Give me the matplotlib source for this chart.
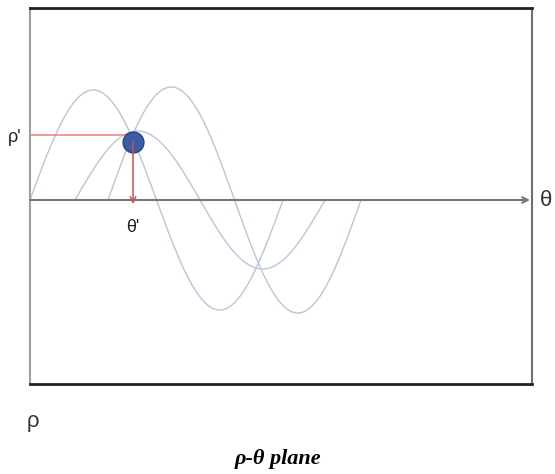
import matplotlib
matplotlib.use('Agg')
import matplotlib.pyplot as plt
import numpy as np

# three sinusoids in the rho-theta plane (start on theta axis, amplitude, period)
curve_start = [0, 78, 45]
curve_amp = [110, 113, 69]
curve_period = [253, 253, 250]

# intersection point and its projections
point_theta = 103
point_rho = 58
rho_prime_level = 65

fig = plt.figure(figsize=(5.55, 4.74), dpi=100)
ax = fig.add_axes([30 / 555, 90 / 474, 502 / 555, 376 / 474])
ax.set_xlim(0, 502)
ax.set_ylim(-184, 192)
ax.set_xticks([])
ax.set_yticks([])
ax.spines['top'].set_color('#222222')
ax.spines['bottom'].set_color('#222222')
ax.spines['top'].set_linewidth(2)
ax.spines['bottom'].set_linewidth(2)
ax.spines['left'].set_color('#a0a0a0')
ax.spines['right'].set_color('#707070')
ax.spines['left'].set_linewidth(1.5)
ax.spines['right'].set_linewidth(1.5)

for s, a, p in zip(curve_start, curve_amp, curve_period):
    t = np.linspace(s, s + p, 300)
    ax.plot(t, a * np.sin(2 * np.pi * (t - s) / p), color='#bcc4dc', lw=1.0)

# theta axis
ax.annotate('', xy=(500, 0), xytext=(0, 0),
            arrowprops=dict(arrowstyle='->', color='#777777', lw=1.5,
                            shrinkA=0, shrinkB=0, mutation_scale=10))

# red projections
ax.plot([0, point_theta], [rho_prime_level, rho_prime_level], color='#e88080', lw=1.1)
ax.annotate('', xy=(point_theta, -4), xytext=(point_theta, point_rho),
            arrowprops=dict(arrowstyle='->', color='#d05050', lw=1.1,
                            shrinkA=0, shrinkB=0, mutation_scale=10))
ax.plot([point_theta], [point_rho], 'o', ms=15, color='#3d5ca6',
        mec='#2a4580', mew=1)

ax.text(-15, 63, "ρ'", fontsize=13, ha='center', va='center', color='#222222',
        family='Liberation Sans', clip_on=False)
ax.text(103, -28, "θ'", fontsize=13, ha='center', va='center', color='#222222',
        family='Liberation Sans', clip_on=False)
ax.text(516, 0, "θ", fontsize=16, ha='center', va='center', color='#333333',
        family='Liberation Sans', clip_on=False)
ax.text(3, -221, "ρ", fontsize=16, ha='center', va='center', color='#333333',
        family='Liberation Sans', clip_on=False)

fig.text(0.5, 1 - 459 / 474, 'ρ-θ plane', fontsize=16, ha='center', va='center',
         family='Liberation Serif', weight='bold', style='italic')

fig.savefig('out.png', dpi=100)
